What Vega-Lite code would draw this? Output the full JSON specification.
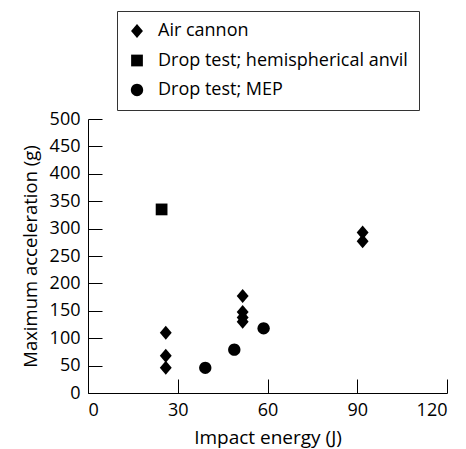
{
  "$schema": "https://vega.github.io/schema/vega-lite/v6.json",
  "width": 359,
  "height": 274,
  "autosize": {"type": "none"},
  "padding": {"left": 88, "top": 119, "right": 19, "bottom": 56},
  "background": "white",
  "data": {"values": [
    {"energy": 26.0, "acc": 110, "test": "Air cannon"},
    {"energy": 26.0, "acc": 68, "test": "Air cannon"},
    {"energy": 26.0, "acc": 46, "test": "Air cannon"},
    {"energy": 51.7, "acc": 177, "test": "Air cannon"},
    {"energy": 51.7, "acc": 148, "test": "Air cannon"},
    {"energy": 51.7, "acc": 138, "test": "Air cannon"},
    {"energy": 51.7, "acc": 130, "test": "Air cannon"},
    {"energy": 91.8, "acc": 293, "test": "Air cannon"},
    {"energy": 91.8, "acc": 277, "test": "Air cannon"},
    {"energy": 24.6, "acc": 335, "test": "Drop test; hemispherical anvil"},
    {"energy": 39.2, "acc": 46, "test": "Drop test; MEP"},
    {"energy": 48.9, "acc": 79, "test": "Drop test; MEP"},
    {"energy": 58.7, "acc": 118, "test": "Drop test; MEP"}
  ]},
  "mark": {"type": "point", "filled": true, "color": "black", "opacity": 1, "size": 196, "strokeWidth": 0},
  "encoding": {
    "x": {
      "field": "energy", "type": "quantitative",
      "scale": {"domain": [0, 120], "nice": false, "zero": true},
      "axis": {"title": "Impact energy (J)", "values": [0, 30, 60, 90, 120], "grid": false}
    },
    "y": {
      "field": "acc", "type": "quantitative",
      "scale": {"domain": [0, 500], "nice": false},
      "axis": {"title": "Maximum acceleration (g)", "values": [0, 50, 100, 150, 200, 250, 300, 350, 400, 450, 500], "grid": false, "titlePadding": 9, "titleFontSize": 18.5}
    },
    "shape": {
      "field": "test", "type": "nominal",
      "scale": {
        "domain": ["Air cannon", "Drop test; hemispherical anvil", "Drop test; MEP"],
        "range": ["M-0.85,0L0,-1L0.85,0L0,1Z", "M-0.84,-0.84H0.84V0.84H-0.84Z", "M-0.88,0A0.88,0.88,0,1,1,0.88,0A0.88,0.88,0,1,1,-0.88,0Z"]
      },
      "legend": {
        "title": null, "orient": "none", "legendX": 29, "legendY": -108,
        "padding": 11, "strokeColor": "#333",
        "symbolFillColor": "black", "symbolStrokeWidth": 0, "symbolSize": 196,
        "labelFont": "Open Sans", "labelFontSize": 18, "labelColor": "black",
        "labelOffset": 12, "rowPadding": 11.5, "labelLimit": 400
      }
    }
  },
  "config": {
    "view": {"stroke": null},
    "axis": {
      "domainColor": "black", "tickColor": "black", "tickSize": -14, "tickWidth": 1,
      "labelFont": "Open Sans", "labelFontSize": 18, "labelColor": "black", "labelPadding": 22,
      "titleFont": "Open Sans", "titleFontSize": 19, "titleFontWeight": "normal", "titleColor": "black", "titlePadding": 9,
      "domainWidth": 1
    }
  }
}
